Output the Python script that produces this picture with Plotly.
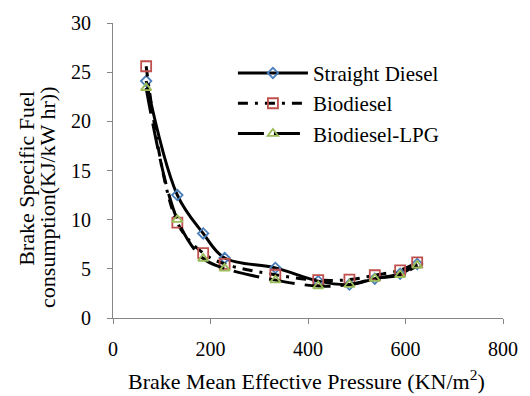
import plotly.graph_objects as go

bmep = [68, 132, 185, 229, 333, 421, 485, 537, 589, 624]
straight_diesel = [24.1, 12.5, 8.6, 6.1, 5.1, 3.75, 3.4, 4.0, 4.5, 5.5]
biodiesel = [25.6, 9.7, 6.6, 5.5, 4.4, 3.85, 3.9, 4.35, 4.85, 5.65]
biodiesel_lpg = [23.4, 10.0, 6.05, 5.05, 3.85, 3.25, 3.4, 4.0, 4.4, 5.35]

series_names = ["Straight Diesel", "Biodiesel", "Biodiesel-LPG"]
x_ticks = [0, 200, 400, 600, 800]
y_ticks = [0, 5, 10, 15, 20, 25, 30]

FONT = "Liberation Serif, Times New Roman, serif"

fig = go.Figure()
styles = [
    (straight_diesel, "solid", "diamond-open", "#4A7EBB", 8),
    (biodiesel, "10px,7px,3px,7px", "square-open", "#C0504D", 10),
    (biodiesel_lpg, "26px,10px", "triangle-up-open", "#9BBB59", 9),
]
for name, (vals, dash, sym, col, sz) in zip(series_names, styles):
    fig.add_trace(go.Scatter(
        x=bmep, y=vals, name=name, mode="lines+markers",
        line=dict(color="black", width=3, dash=dash, shape="spline", smoothing=1),
        marker=dict(symbol=sym, size=sz, color=col, line=dict(color=col, width=1.8)),
    ))

axis_common = dict(
    showgrid=False, zeroline=False, showline=True, linecolor="#868686", linewidth=1,
    ticks="outside", ticklen=5, tickcolor="#868686", tickwidth=1,
    tickfont=dict(family=FONT, size=20, color="black"),
)
fig.update_xaxes(range=[0, 800], tickvals=x_ticks, **axis_common, ticklabelstandoff=8)
fig.update_yaxes(range=[0, 30], tickvals=y_ticks, **axis_common, ticklabelstandoff=12)

ann_font = dict(family=FONT, size=22, color="black")
fig.update_layout(
    width=530, height=396,
    margin=dict(l=113, r=17, t=17.5, b=78),
    paper_bgcolor="white", plot_bgcolor="white",
    font=dict(family=FONT, color="black"),
    showlegend=True,
    legend=dict(x=(236 - 113) / 400, y=0.899, xanchor="left", yanchor="top",
                font=dict(family=FONT, size=21, color="black"),
                bgcolor="rgba(0,0,0,0)", itemwidth=70, tracegroupgap=0),
    annotations=[
        dict(text="Brake Specific Fuel", xref="paper", yref="paper",
             x=(24 - 113) / 400, y=(318 - 176) / 300.5, textangle=-90,
             xanchor="center", yanchor="middle", showarrow=False, font=ann_font),
        dict(text="consumption(KJ/kW hr))", xref="paper", yref="paper",
             x=(46 - 113) / 400, y=(318 - 195) / 300.5, textangle=-90,
             xanchor="center", yanchor="middle", showarrow=False, font=ann_font),
        dict(text="Brake Mean Effective Pressure (KN/m<sup>2</sup>)", xref="paper", yref="paper",
             x=(311 - 113) / 400, y=(318 - 381) / 300.5,
             xanchor="center", yanchor="middle", showarrow=False, font=ann_font),
    ],
)
fig.write_html("out.html")
